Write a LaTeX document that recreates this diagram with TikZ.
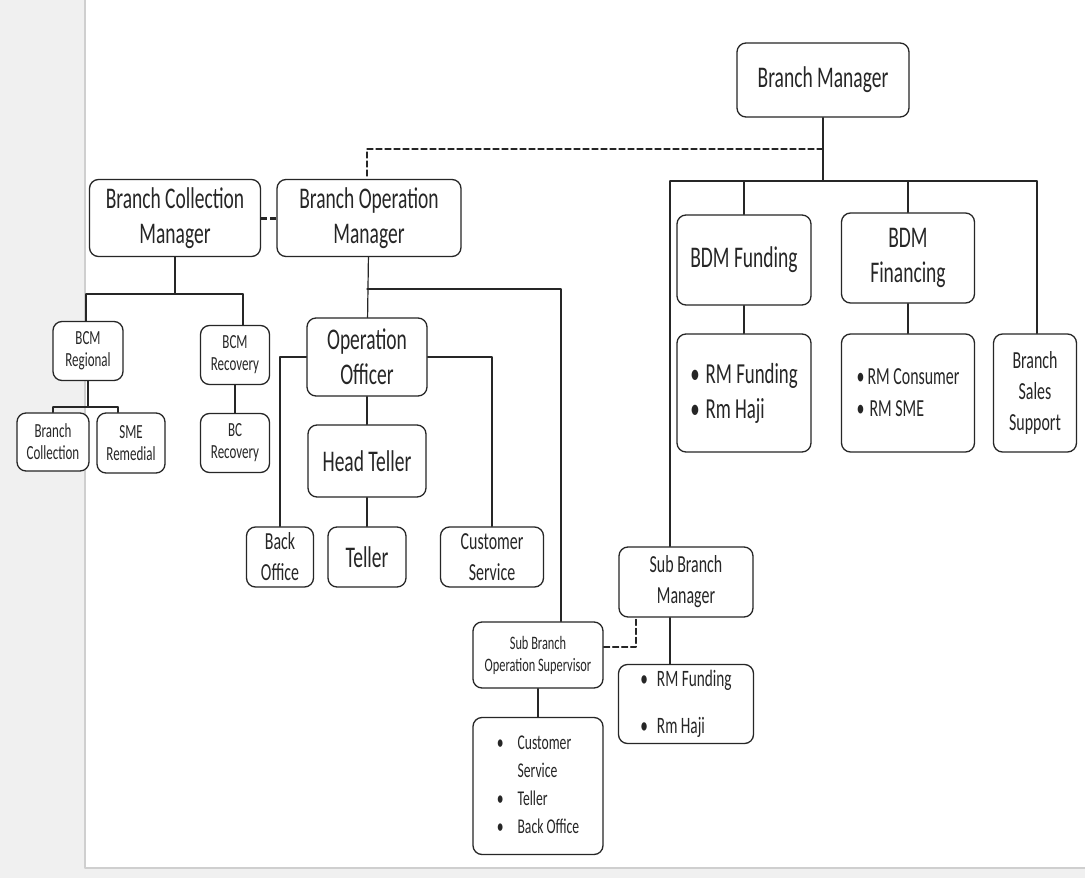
\documentclass[tikz,border=0pt]{standalone}
\usepackage{fontspec}
\setmainfont{Carlito}[FakeStretch=0.65]
\usepackage{tikz}
\usetikzlibrary{positioning}
\definecolor{pagegray}{HTML}{F0F0F0}
\definecolor{edgegray}{HTML}{CFCFCF}
\definecolor{inkgray}{HTML}{262626}

\begin{document}
\begin{tikzpicture}[line cap=round,line join=round,x=1pt,y=-1pt,
  orgbox/.style={draw=inkgray,fill=white,line width=1.3pt,rounded corners=9pt,align=center,inner sep=0pt,text=inkgray},
  txtbig/.style={font=\fontsize{30}{35}\selectfont},
  txtmid/.style={font=\fontsize{24.5}{31}\selectfont},
  txtsmall/.style={font=\fontsize{20}{22}\selectfont},
  link/.style={draw=inkgray,line width=1.2pt},
  dashlink/.style={draw=inkgray,line width=1.2pt,dash pattern=on 6pt off 3pt}]
\useasboundingbox (0,0) rectangle (1085,878);
\fill[pagegray] (0,0) rectangle (1085,878);
\fill[white] (85,-2) rectangle (1087,868);
\draw[edgegray,line width=1.5pt] (85,-2) -- (85,868) -- (1087,868);
\node[orgbox,txtbig,minimum width=172,minimum height=74] (bm) at (823,80) {Branch Manager};
\node[orgbox,txtbig,minimum width=171,minimum height=77] (bcm) at (175,218) {Branch Collection\\Manager};
\node[orgbox,txtbig,minimum width=184,minimum height=77] (bom) at (369,218) {Branch Operation\\Manager};
\node[orgbox,txtsmall,minimum width=70,minimum height=59] (bcmreg) at (88,351) {BCM\\Regional};
\node[orgbox,txtsmall,minimum width=69,minimum height=59] (bcmrec) at (235,355) {BCM\\Recovery};
\node[orgbox,txtsmall,minimum width=72,minimum height=58] (brcoll) at (53,442) {Branch\\Collection};
\node[orgbox,txtsmall,minimum width=68,minimum height=60] (smerem) at (131,443) {SME\\Remedial};
\node[orgbox,txtsmall,minimum width=69,minimum height=59] (bcrec) at (235,443) {BC\\Recovery};
\node[orgbox,txtbig,minimum width=120,minimum height=78] (oo) at (367,357) {Operation\\Officer};
\node[orgbox,txtbig,minimum width=118,minimum height=72] (ht) at (367,461) {Head Teller};
\node[orgbox,txtmid,minimum width=67,minimum height=60] (bo) at (280,557) {Back\\Office};
\node[orgbox,txtbig,minimum width=78,minimum height=60] (teller) at (367,557) {Teller};
\node[orgbox,txtmid,minimum width=103,minimum height=60] (cs) at (492,557) {Customer\\Service};
\node[orgbox,txtbig,minimum width=134,minimum height=90] (bdmf) at (744,260) {BDM Funding};
\node[orgbox,txtbig,minimum width=133,minimum height=90] (bdmfin) at (908,258) {BDM\\Financing};
\node[orgbox,minimum width=134,minimum height=118,align=left,font=\fontsize{29}{35}\selectfont] (rmf) at (744,393) {\textbullet\hskip6pt RM Funding\\\textbullet\hskip6pt Rm Haji};
\node[orgbox,minimum width=133,minimum height=118,align=left,font=\fontsize{24.5}{32}\selectfont] (rmc) at (908,393) {\textbullet\hskip3pt RM Consumer\\\textbullet\hskip5pt RM SME};
\node[orgbox,txtmid,minimum width=83,minimum height=118] (bss) at (1035,393) {Branch\\Sales\\Support};
\node[orgbox,txtmid,minimum width=134,minimum height=70] (sbm) at (686,582) {Sub Branch\\Manager};
\node[orgbox,font=\fontsize{19}{22}\selectfont,minimum width=130,minimum height=66] (sbos) at (538,655) {Sub Branch\\Operation Supervisor};
\node[orgbox,font=\fontsize{23.5}{47}\selectfont,minimum width=135,minimum height=79,align=left] (rmftwo) at (686,704) {\textbullet\hskip9pt RM Funding\\\textbullet\hskip9pt Rm Haji};
\node[orgbox,font=\fontsize{21}{28}\selectfont,minimum width=130,minimum height=137] (sblist) at (538,786) {\begin{tabular}{@{}l@{\hskip14pt}l@{}}\textbullet & Customer\\ & Service\\ \textbullet & Teller\\ \textbullet & Back Office\end{tabular}};
\coordinate (busL) at (670,181);
\coordinate (busR) at (1037,181);
\coordinate (topdash) at (367,149);
\coordinate (bcmbusL) at (86,294);
\coordinate (bcmbusR) at (243,294);
\coordinate (regbusL) at (53,407);
\coordinate (regbusR) at (118,407);
\coordinate (sbosup) at (561,289);
\coordinate (sbdash) at (636,647);
\draw[link] (bm) -- (bm |- busL);
\draw[link] (busL) -- (busR);
\draw[link] (bdmf) -- (bdmf |- busL);
\draw[link] (bdmfin) -- (bdmfin |- busL);
\draw[link] (busR) -- (bss.north -| busR);
\draw[link] (busL) -- (sbm.north -| busL);
\draw[link] (bdmf) -- (rmf);
\draw[link] (bdmfin) -- (rmc);
\draw[link] (sbm.south -| busL) -- (rmftwo.north -| busL);
\draw[dashlink] (bm |- topdash) -- (topdash) -- (bom.north -| topdash);
\draw[draw=inkgray,line width=3pt,line cap=butt,dash pattern=on 6pt off 3pt] (bcm) -- (bom);
\draw[link] (bcm) -- (bcm |- bcmbusL);
\draw[link] (bcmbusL) -- (bcmbusR);
\draw[link] (bcmbusL) -- (bcmreg.north -| bcmbusL);
\draw[link] (bcmbusR) -- (bcmrec.north -| bcmbusR);
\draw[link] (bcmreg) -- (bcmreg |- regbusL);
\draw[link] (regbusL) -- (regbusR);
\draw[link] (regbusL) -- (brcoll.north -| regbusL);
\draw[link] (regbusR) -- (smerem.north -| regbusR);
\draw[link] (bcmrec) -- (bcrec);
\draw[link] (bom) -- (oo);
\draw[link] (oo |- sbosup) -- (sbosup) -- (sbos.north -| sbosup);
\draw[link] (oo.west) -| (bo);
\draw[link] (oo.east) -| (cs);
\draw[link] (oo) -- (ht);
\draw[link] (ht) -- (teller);
\draw[dashlink] (sbos.east |- sbdash) -- (sbdash) -- (sbm.south -| sbdash);
\draw[link] (sbos) -- (sblist);
\end{tikzpicture}
\end{document}
